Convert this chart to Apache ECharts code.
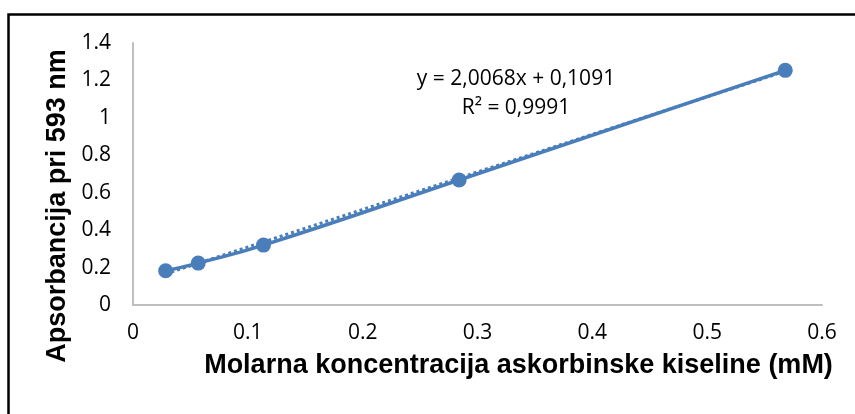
<!DOCTYPE html>
<html>
<head>
<meta charset="utf-8">
<script src="https://cdn.jsdelivr.net/npm/echarts@6/dist/echarts.min.js"></script>
<style>
html,body{margin:0;padding:0;background:#fff;}
#chart{width:855px;height:414px;}
</style>
</head>
<body>
<div id="chart"></div>
<script>
// Data
const concentrations = [0.0284, 0.0568, 0.1136, 0.284, 0.568];
const absorbances = [0.183, 0.224, 0.320, 0.668, 1.254];
const trendSlope = 2.0068;
const trendIntercept = 0.1091;
const equationLines = ['y = 2,0068x + 0,1091', 'R² = 0,9991'];
const xTitle = 'Molarna koncentracija askorbinske kiseline (mM)';
const yTitle = 'Apsorbancija pri 593 nm';

const points = concentrations.map((x, i) => [x, absorbances[i]]);
const xMin = concentrations[0], xMax = concentrations[concentrations.length - 1];
const trendPoints = [[xMin, trendSlope * xMin + trendIntercept], [xMax, trendSlope * xMax + trendIntercept]];

const chart = echarts.init(document.getElementById('chart'), null, {renderer: 'canvas'});
const blue = '#4A7EBB';
const bodyFont = '"Open Sans", "Noto Sans", sans-serif';
const tickFont = {fontFamily: bodyFont, fontSize: 21, color: '#000'};
const titleFont = {fontFamily: '"Liberation Sans", Arial, sans-serif', fontWeight: 'bold', fontSize: 27, color: '#000'};

chart.setOption({
  animation: false,
  backgroundColor: '#fff',
  grid: {left: 133, top: 43, width: 689, height: 262, containLabel: false},
  xAxis: {
    type: 'value', min: 0, max: 0.6, interval: 0.1,
    axisLine: {show: true, lineStyle: {color: '#BFBFBF', width: 2}},
    axisTick: {show: false},
    splitLine: {show: false},
    axisLabel: Object.assign({margin: 18}, tickFont),
    name: xTitle, nameLocation: 'middle', nameGap: 47,
    nameTextStyle: Object.assign({padding: [0, 0, 0, 82]}, titleFont)
  },
  yAxis: {
    type: 'value', min: 0, max: 1.4, interval: 0.2,
    axisLine: {show: true, lineStyle: {color: '#BFBFBF', width: 2}},
    axisTick: {show: false},
    splitLine: {show: false},
    axisLabel: Object.assign({margin: 22}, tickFont),
    name: yTitle, nameLocation: 'middle', nameGap: 58, nameRotate: 90,
    nameTextStyle: Object.assign({padding: [0, 64, 0, 0]}, titleFont)
  },
  series: [
    {
      type: 'line', data: trendPoints, symbol: 'none', z: 1,
      lineStyle: {color: blue, width: 3, type: 'dotted'}
    },
    {
      type: 'line', data: points, smooth: true, z: 2,
      symbol: 'circle', symbolSize: 15,
      itemStyle: {color: blue},
      lineStyle: {color: blue, width: 3.5}
    }
  ],
  graphic: [
    {type: 'rect', shape: {x: 8.5, y: 14.5, width: 1000, height: 600}, style: {fill: null, stroke: '#000', lineWidth: 2.5}, silent: true, z: 0},
    {type: 'text', x: 516, y: 79, style: {text: equationLines[0], fontFamily: bodyFont, fontSize: 21, fill: '#000', align: 'center', verticalAlign: 'middle'}},
    {type: 'text', x: 516, y: 108, style: {text: equationLines[1], fontFamily: bodyFont, fontSize: 21, fill: '#000', align: 'center', verticalAlign: 'middle'}}
  ]
});
</script>
</body>
</html>
